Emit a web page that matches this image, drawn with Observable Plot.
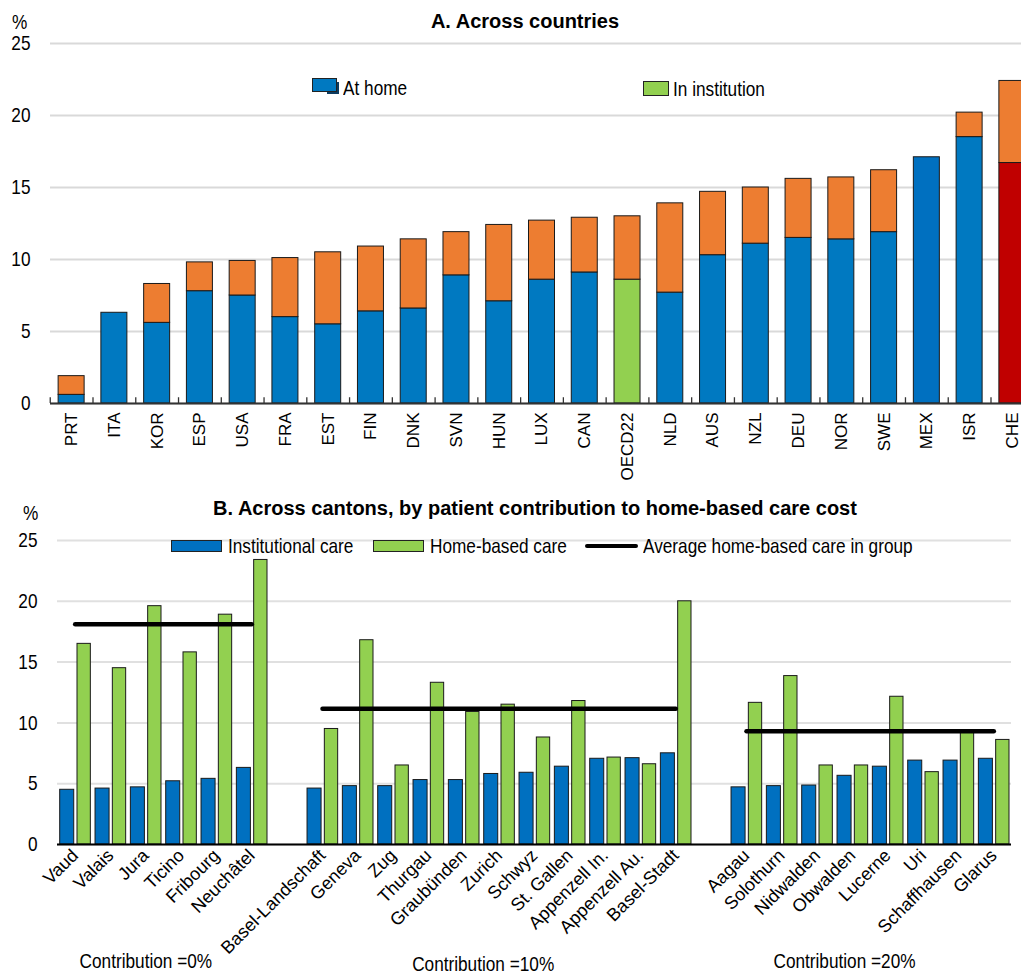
<!DOCTYPE html>
<html>
<head>
<meta charset="utf-8">
<script src="https://cdn.jsdelivr.net/npm/d3@7"></script>
<script src="https://cdn.jsdelivr.net/npm/@observablehq/plot@0.6"></script>
<style>
  body { margin: 0; background: #fff; }
  #root { position: relative; width: 1021px; height: 979px; overflow: hidden; font-family: "Liberation Sans", Arial, sans-serif; color: #000; }
  .abs { position: absolute; white-space: nowrap; line-height: 1; }
  .title { font-weight: bold; font-size: 20px; transform: translateX(-50%); }
  .narrow { font-family: "Liberation Sans", Arial, sans-serif; font-size: 21px; transform: scaleX(0.82); transform-origin: 0 0; }
  .sw { position: absolute; box-sizing: border-box; border: 1.5px solid #222; }
  svg { position: absolute; left: 0; }
</style>
</head>
<body>
<div id="root"></div>
<script>
// ---------- Panel A data ----------
const countries = ["PRT","ITA","KOR","ESP","USA","FRA","EST","FIN","DNK","SVN","HUN","LUX","CAN","OECD22","NLD","AUS","NZL","DEU","NOR","SWE","MEX","ISR","CHE"];
const atHomeShare = [0.6,6.3,5.6,7.8,7.5,6.0,5.5,6.4,6.6,8.9,7.1,8.6,9.1,8.6,7.7,10.3,11.1,11.5,11.4,11.9,17.1,18.5,16.7];
const totalShare  = [1.9,6.3,8.3,9.8,9.9,10.1,10.5,10.9,11.4,11.9,12.4,12.7,12.9,13.0,13.9,14.7,15.0,15.6,15.7,16.2,17.1,20.2,22.4];
const legendA = ["At home","In institution"];
const yTicks = [0,5,10,15,20,25];

// ---------- Panel B data ----------
const groupLabels = ["Contribution =0%","Contribution =10%","Contribution =20%"];
const cantonsG1 = ["Vaud","Valais","Jura","Ticino","Fribourg","Neuchâtel"];
const cantonsG2 = ["Basel-Landschaft","Geneva","Zug","Thurgau","Graubünden","Zurich","Schwyz","St. Gallen","Appenzell In.","Appenzell Au.","Basel-Stadt"];
const cantonsG3 = ["Aagau","Solothurn","Nidwalden","Obwalden","Lucerne","Uri","Schaffhausen","Glarus"];
const institutionalG1 = [4.5,4.6,4.7,5.2,5.4,6.3];
const homeBasedG1     = [16.5,14.5,19.6,15.8,18.9,23.4];
const institutionalG2 = [4.6,4.8,4.8,5.3,5.3,5.8,5.9,6.4,7.05,7.1,7.5];
const homeBasedG2     = [9.5,16.8,6.5,13.3,10.9,11.5,8.8,11.8,7.15,6.6,20.0];
const institutionalG3 = [4.7,4.8,4.85,5.65,6.4,6.9,6.9,7.05];
const homeBasedG3     = [11.65,13.85,6.5,6.5,12.15,5.95,9.3,8.6];
const legendB = ["Institutional care","Home-based care","Average home-based care in group"];

// ---------- styles ----------
const BLUE = "#0079C1", BLUE2 = "#0070C0", ORANGE = "#ED7D31", GREEN = "#92D050", RED = "#C00000";
const REG = '"Liberation Sans", Arial, sans-serif';
const SQUEEZE = 0.82; // emulate Arial Narrow

function condenseTexts(texts) {
  texts.forEach(t => {
    const tr = t.getAttribute("transform") || "";
    t.setAttribute("transform", `${tr} scale(${SQUEEZE},1)`);
  });
}

const root = document.getElementById("root");

// ---------- Panel A ----------
const dataA = countries.map((c, i) => ({country: c, base: atHomeShare[i], total: totalShare[i]}));
const baseColor = c => c === "OECD22" ? GREEN : c === "CHE" ? RED : c === "MEX" ? BLUE2 : BLUE;
const padIn = 0.392, padOut = 0.19;
const stepA = (1033 - 50) / (countries.length - padIn + 2 * padOut);

const plotA = Plot.plot({
  width: 1021, height: 490,
  marginLeft: 50, marginRight: -12, marginTop: 43, marginBottom: 87,
  style: {fontFamily: REG, fontSize: "21px", color: "#000", background: "transparent"},
  x: {domain: countries, paddingInner: padIn, paddingOuter: padOut, align: 0.5, round: false, axis: null},
  y: {domain: [0, 25], axis: null},
  marks: [
    Plot.gridY(yTicks, {stroke: "#d9d9d9", strokeOpacity: 1, strokeWidth: 2}),
    Plot.barY(dataA, {x: "country", y1: 0, y2: "base", fill: d => baseColor(d.country), stroke: "#1a1a1a", strokeWidth: 1}),
    Plot.barY(dataA.filter(d => d.total > d.base), {x: "country", y1: "base", y2: "total", fill: ORANGE, stroke: "#1a1a1a", strokeWidth: 1}),
    Plot.ruleY([0], {stroke: "#333", strokeWidth: 2}),
    Plot.ruleX(countries, {x: d => d, y1: 0, y2: 0.4, dx: -stepA / 2, stroke: "#333", strokeWidth: 1.3}),
    Plot.axisY({ticks: yTicks, tickSize: 0, tickPadding: 20, fontSize: 21, label: null}),
    Plot.axisX({ticks: countries, tickRotate: -90, tickSize: 0, tickPadding: 9, fontSize: 17, label: null})
  ]
});
condenseTexts(plotA.querySelectorAll('g[aria-label="y-axis tick label"] text'));
plotA.style.top = "0px";
root.appendChild(plotA);

// ---------- Panel B ----------
const groups = [
  {label: groupLabels[0], cantons: cantonsG1, inst: institutionalG1, home: homeBasedG1},
  {label: groupLabels[1], cantons: cantonsG2, inst: institutionalG2, home: homeBasedG2},
  {label: groupLabels[2], cantons: cantonsG3, inst: institutionalG3, home: homeBasedG3}
];
const dataB = groups.flatMap((g, gi) => g.cantons.map((c, i) => ({group: gi, canton: c, inst: g.inst[i], home: g.home[i]})));
const avgB = groups.flatMap((g, gi) => {
  const m = d3.mean(g.home);
  return g.cantons.map(c => ({group: gi, canton: c, avg: m}));
});
const allCantons = dataB.map(d => d.canton);
const slots = [...cantonsG1, "__gap1", ...cantonsG2, "__gap2", ...cantonsG3];

const plotB = Plot.plot({
  width: 1021, height: 489,
  marginLeft: 57, marginRight: 10, marginTop: 50, marginBottom: 135,
  style: {fontFamily: REG, fontSize: "21px", color: "#000", background: "transparent"},
  x: {domain: slots, padding: 0, round: false, axis: null},
  y: {domain: [0, 25], axis: null},
  marks: [
    Plot.gridY(yTicks, {stroke: "#e0e0e0", strokeOpacity: 1, strokeWidth: 2}),
    Plot.barY(dataB, {x: "canton", y: "inst", insetLeft: 2.7, insetRight: 18.6, fill: BLUE2, stroke: "#1a1a1a", strokeWidth: 1}),
    Plot.barY(dataB, {x: "canton", y: "home", insetLeft: 20, insetRight: 2, fill: GREEN, stroke: "#1a1a1a", strokeWidth: 1}),
    Plot.ruleY([0], {stroke: "#000", strokeWidth: 2}),
    Plot.line(avgB, {x: "canton", y: "avg", z: "group", stroke: "#000", strokeWidth: 4.5, strokeLinecap: "round"}),
    Plot.axisY({ticks: yTicks, tickSize: 0, tickPadding: 20, fontSize: 21, label: null}),
    Plot.axisX({ticks: allCantons, tickRotate: -45, tickSize: 0, tickPadding: 8, fontSize: 18, label: null}),
    Plot.text([groups[0]], {x: d => d.cantons[2], text: "label", frameAnchor: "bottom", dy: 123, dx: 0, fontSize: 21}),
    Plot.text([groups[1]], {x: d => d.cantons[5], text: "label", frameAnchor: "bottom", dy: 126, dx: -16, fontSize: 21}),
    Plot.text([groups[2]], {x: d => d.cantons[3], text: "label", frameAnchor: "bottom", dy: 123, dx: -8, fontSize: 21})
  ]
});
condenseTexts(plotB.querySelectorAll('g[aria-label="y-axis tick label"] text'));
condenseTexts([...plotB.querySelectorAll("text")].filter(t => groupLabels.includes(t.textContent)));
plotB.style.top = "490px";
root.appendChild(plotB);

// ---------- HTML overlays: titles, units, legends ----------
function addDiv(cls, text, left, top) {
  const d = document.createElement("div");
  d.className = "abs " + cls;
  d.textContent = text;
  d.style.left = left + "px";
  d.style.top = top + "px";
  root.appendChild(d);
  return d;
}
function addSwatch(left, top, w, h, color, extra) {
  const s = document.createElement("div");
  s.className = "sw";
  Object.assign(s.style, {left: left + "px", top: top + "px", width: w + "px", height: h + "px", background: color}, extra || {});
  root.appendChild(s);
}

addDiv("title", "A. Across countries", 525, 11);
addDiv("narrow", "%", 12, 11);
addSwatch(327, 82, 12, 12, "#0b3b60", {border: "none"});
addSwatch(312, 78, 25, 14, BLUE);
addDiv("narrow", legendA[0], 343, 77);
addSwatch(643, 81, 26, 15, GREEN);
addDiv("narrow", legendA[1], 673, 78);

addDiv("title", "B. Across cantons, by patient contribution to home-based care cost", 535, 498);
addDiv("narrow", "%", 23, 502);
addSwatch(171, 540, 51, 12, BLUE2);
addDiv("narrow", legendB[0], 228, 535);
addSwatch(373, 540, 51, 12, GREEN);
addDiv("narrow", legendB[1], 430, 535);
const ln = document.createElement("div");
Object.assign(ln.style, {position: "absolute", left: "585px", top: "543.5px", width: "53px", height: "4.5px", background: "#000", borderRadius: "2px"});
root.appendChild(ln);
addDiv("narrow", legendB[2], 643, 535);
</script>
</body>
</html>
